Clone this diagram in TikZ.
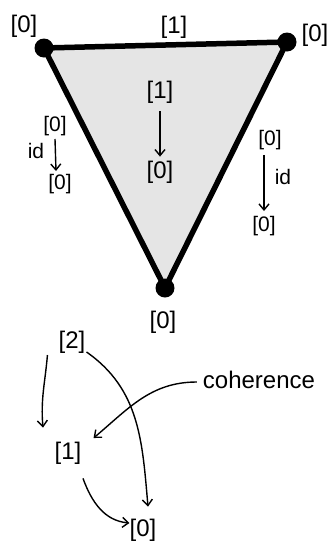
\documentclass[tikz,border=0pt]{standalone}
\usepackage{fontspec}
\setmainfont{Liberation Sans}
\usetikzlibrary{arrows.meta,calc}
\begin{document}
\begin{tikzpicture}[x=1pt,y=-1pt,
  lbl/.style={inner sep=0pt,font=\fontsize{24}{26}\selectfont},
  sml/.style={inner sep=0pt,font=\fontsize{21}{23}\selectfont},
  vert/.style={circle,fill=black,minimum size=19pt,inner sep=0pt},
  edge/.style={line width=5.5pt,line join=round},
  arr/.style={line width=1.4pt,-{Straight Barb[length=6pt,width=10pt]}}]
\useasboundingbox (0,0) rectangle (332,547);
\coordinate (A) at (44,48);
\coordinate (B) at (287,42);
\coordinate (C) at (165,288);
\fill[black!10] (A) -- (B) -- (C) -- cycle;
\draw[edge] (A) -- (B) -- (C) -- cycle;
\node[vert] (va) at (A) {};
\node[vert] (vb) at (B) {};
\node[vert] (vc) at (C) {};
\node[lbl] (la) at (24,26) {[0]};
\node[lbl] (lab) at (174,27) {[1]};
\node[lbl] (lb) at (315,35) {[0]};
\node[lbl] (lc) at (163,322) {[0]};
% interior
\node[lbl] (f1) at (160,92) {[1]};
\node[lbl] (f0) at (160,172) {[0]};
\draw[arr] ($(f1.south)+(0,8)$) -- ($(f0.north)+(0,-4)$);
% left edge
\node[sml] (l1) at (55,126) {[0]};
\node[sml] (l0) at (60,184) {[0]};
\node[sml] (lid) at (36,151) {id};
\draw[arr] ($(l1.south)+(0,3)$) -- ($(l0.north)+(-4,-3)$);
% right edge
\node[sml] (r1) at (270,140) {[0]};
\node[sml] (r0) at (264,226) {[0]};
\node[sml] (rid) at (283,177) {id};
\draw[arr] ($(r1.south)+(-6,5)$) -- ($(r0.north)+(0,-5)$);
% bottom diagram
\node[lbl] (b2) at (72,342) {[2]};
\node[lbl] (b1) at (68,453) {[1]};
\node[lbl] (b0) at (143,530) {[0]};
\node[lbl] (coh) at (259,380) {coherence};
\draw[arr] ($(b2.west)+(-11,13)$) to[out=-95,in=95] ($(b1.north)+(-25,-14)$);
\draw[arr] ($(b2.east)+(1,10)$) to[out=-35,in=95] ($(b0.north)+(5,-12)$);
\draw[arr] ($(b1.south)+(15,14)$) to[out=-70,in=175] ($(b0.west)+(0,-7)$);
\draw[arr] ($(coh.west)+(-6,2)$) to[out=180,in=40] ($(b1.east)+(12,-15)$);
\end{tikzpicture}
\end{document}
